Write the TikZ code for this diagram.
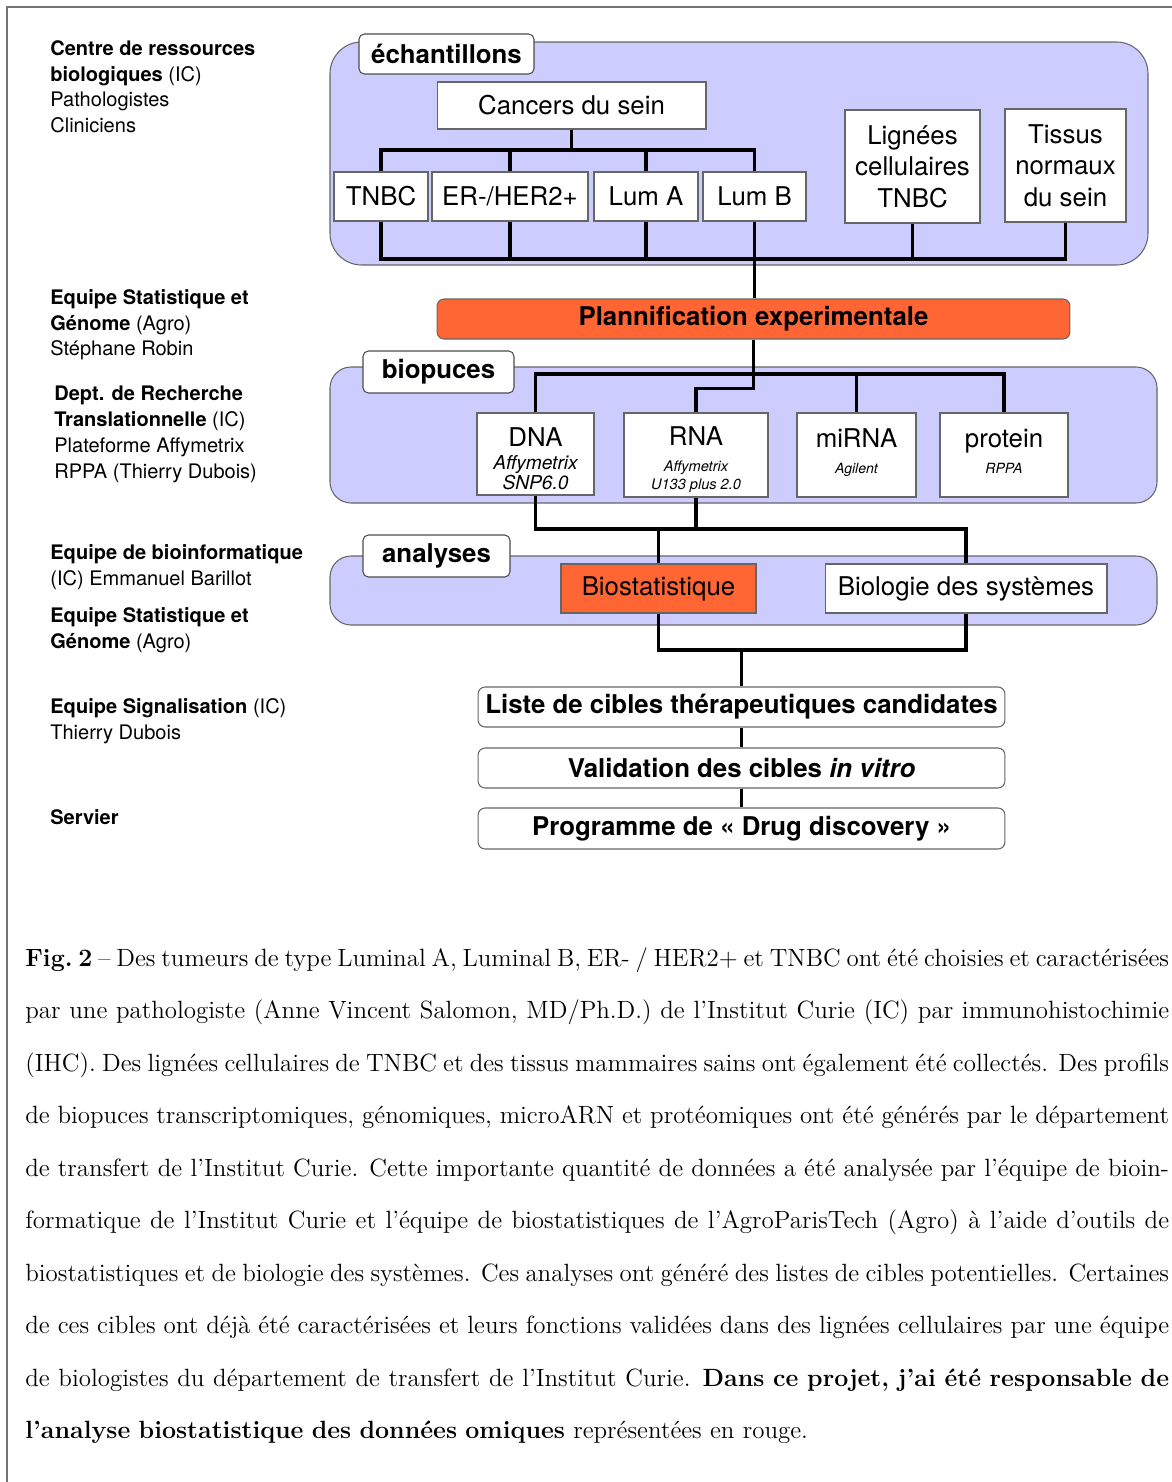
\documentclass[tikz,border=0pt]{standalone}
\usepackage{fontspec}
\setsansfont{TeX Gyre Heros}
\usetikzlibrary{calc}
\definecolor{lavender}{HTML}{CCCCFF}
\definecolor{planorange}{HTML}{FF6633}
\newcommand\subtxt[2]{{\fontsize{#1}{#1}\selectfont\itshape #2}}
\newcommand\capfont{\rmfamily\fontsize{14.2}{29.9}\selectfont
  \spaceskip=0.3333em plus 0.3em minus 0.2em\relax
  \hyphenpenalty=10000\relax\exhyphenpenalty=10000\relax}

\begin{document}
\begin{tikzpicture}[x=0.02cm, y=-0.02cm,
  group/.style={draw=black!60, fill=lavender, line width=0.6pt},
  tag/.style={draw=black!70, fill=white, rounded corners=3pt, line width=0.6pt, inner sep=0pt,
    font=\sffamily\bfseries\fontsize{14.7}{17}\selectfont},
  box/.style={draw=black!60, fill=white, line width=0.6pt, inner sep=0pt, align=center,
    font=\sffamily\fontsize{14.7}{18}\selectfont},
  stepbox/.style={box, rounded corners=4pt, font=\sffamily\bfseries\fontsize{14.7}{17}\selectfont},
  link/.style={line width=1.9pt},
  thinlink/.style={line width=1.3pt},
  who/.style={anchor=north west, align=left, inner sep=0pt, font=\sffamily\fontsize{11.4}{14.7}\selectfont},
  caption/.style={anchor=north west, inner sep=0pt, text width=651pt, align=justify, font=\capfont}
]
  \useasboundingbox (0,0) rectangle (1172,1482);
  \draw[black!55, line width=1.2pt] (7,1482) -- (7,7) -- (1172,7);

  % who does what
  \node[who] (crb) at (50,40) {\textbf{Centre de ressources}\\\textbf{biologiques} (IC)\\Pathologistes\\Cliniciens};
  \node[who] (ssg1) at (50,289) {\textbf{Equipe Statistique et}\\\textbf{Génome} (Agro)\\Stéphane Robin};
  \node[who] (drt) at (54,386) {\textbf{Dept. de Recherche}\\\textbf{Translationnelle} (IC)\\Plateforme Affymetrix\\RPPA (Thierry Dubois)};
  \node[who] (bioinfo) at (50,544) {\textbf{Equipe de bioinformatique}\\(IC) Emmanuel Barillot};
  \node[who] (ssg2) at (50,607) {\textbf{Equipe Statistique et}\\\textbf{Génome} (Agro)};
  \node[who] (signal) at (50,698) {\textbf{Equipe Signalisation} (IC)\\Thierry Dubois};
  \node[who] (servier) at (50,809) {\textbf{Servier}};

  % groups
  \draw[group, rounded corners=18pt] (330,42) rectangle (1148,265);
  \draw[group, rounded corners=12pt] (330,367) rectangle (1157,503);
  \draw[group, rounded corners=12pt] (330,556) rectangle (1157,625);

  % samples
  \node[tag, minimum width=3.5cm, minimum height=0.8cm] (echtag) at (446.5,54) {échantillons};
  \node[box, minimum width=5.38cm, minimum height=0.94cm] (cancer) at (571.5,105.5) {Cancers du sein};
  \node[box, minimum width=1.88cm, minimum height=0.98cm] (tnbc) at (381,196.5) {TNBC};
  \node[box, minimum width=3.12cm, minimum height=0.98cm] (er) at (510,196.5) {ER-/HER2+};
  \node[box, minimum width=2.08cm, minimum height=0.98cm] (luma) at (646,196.5) {Lum A};
  \node[box, minimum width=2.06cm, minimum height=0.98cm] (lumb) at (754.5,196.5) {Lum B};
  \node[box, minimum width=2.7cm, minimum height=2.26cm] (lign) at (912.5,166.5) {Lignées\\cellulaires\\TNBC};
  \node[box, minimum width=2.42cm, minimum height=2.26cm] (tissus) at (1065.5,165.5) {Tissus\\normaux\\du sein};

  \node[stepbox, fill=planorange, minimum width=12.66cm, minimum height=0.8cm] (plan) at (753.5,319) {Plannification experimentale};

  % microarrays
  \node[tag, minimum width=3.02cm, minimum height=0.84cm] (biotag) at (438.5,372) {biopuces};
  \node[box, minimum width=2.34cm, minimum height=1.64cm] (dna) at (535.5,454)
    {\rule{0pt}{16pt}DNA\\[-5pt]\subtxt{10.9}{Affymetrix}\\[-6.7pt]\subtxt{10.9}{SNP6.0}};
  \node[box, minimum width=2.88cm, minimum height=1.68cm] (rna) at (696,455)
    {\rule{0pt}{16pt}RNA\\[-3.3pt]\subtxt{8.3}{Affymetrix}\\[-7.8pt]\subtxt{8.3}{U133 plus 2.0}};
  \node[box, minimum width=2.38cm, minimum height=1.68cm] (mirna) at (856.5,455)
    {\rule{0pt}{16pt}miRNA\\[-3.3pt]\subtxt{8}{Agilent}\\[-7.8pt]\mbox{}};
  \node[box, minimum width=2.56cm, minimum height=1.68cm] (prot) at (1004,455)
    {\rule{0pt}{16pt}protein\\[-3.3pt]\subtxt{8}{RPPA}\\[-7.8pt]\mbox{}};

  % analyses
  \node[tag, minimum width=2.94cm, minimum height=0.84cm] (anatag) at (436.5,556) {analyses};
  \node[box, fill=planorange, minimum width=3.9cm, minimum height=0.98cm] (biostat) at (658.5,588.5) {Biostatistique};
  \node[box, minimum width=5.64cm, minimum height=0.98cm] (biosys) at (966,588.5) {Biologie des systèmes};

  % outcome
  \node[stepbox, minimum width=10.54cm, minimum height=0.8cm] (liste) at (741.5,707) {Liste de cibles thérapeutiques candidates};
  \node[stepbox, minimum width=10.54cm, minimum height=0.8cm] (valid) at (741.5,768) {Validation des cibles \textit{in vitro}};
  \node[stepbox, minimum width=10.54cm, minimum height=0.82cm] (prog) at (741.5,828.5) {Programme de « Drug discovery »};

  % connectors
  \coordinate (echtop) at (0,150);
  \coordinate (echbar) at (0,259);
  \draw[link] (cancer.south) -- (cancer.south |- echtop);
  \draw[link] (tnbc.north) |- (echtop -| lumb.north) -- (lumb.north);
  \draw[link] (tnbc.south) |- (echbar -| tissus.south) -- (tissus.south);
  \foreach \n in {er, luma} {
    \draw[link] (\n.north) -- (\n.north |- echtop);
    \draw[link] (\n.south) -- (\n.south |- echbar);
  }
  \draw[link] (lign.south) -- (lign.south |- echbar);
  \draw[link] (lumb.south) -- (lumb.south |- echbar);
  \draw[thinlink] (lumb.south |- echbar) -- (lumb.south |- plan.north);

  \coordinate (biobar) at (0,374);
  \draw[link] (plan.south) -- ++(0,49) -| (rna.north);
  \draw[link] (dna.north) |- (biobar -| prot.north) -- (prot.north);
  \draw[link] (mirna.north) -- (mirna.north |- biobar);

  \coordinate (anabar) at (0,529);
  \coordinate (outbar) at (0,650);
  \draw[link] (dna.south) |- (anabar -| biosys.north) -- (biosys.north);
  \draw[link] (rna.south) -- (rna.south |- anabar);
  \draw[link] (biostat.north) -- (biostat.north |- anabar);
  \draw[link] (biostat.south) |- (outbar -| biosys.south) -- (biosys.south);
  \draw[link] (liste.north) -- (liste.north |- outbar);
  \draw[link] (liste) -- (valid);
  \draw[link] (valid) -- (prog);

  % caption
  \node[caption] (cap) at (25,947) {\textbf{Fig.~2} -- Des tumeurs de type Luminal A, Luminal B, ER- / HER2+ et TNBC ont été choisies et caractérisées\linebreak
    par une pathologiste (Anne Vincent Salomon, MD/Ph.D.) de l'Institut Curie (IC) par immunohistochimie\linebreak
    (IHC). Des lignées cellulaires de TNBC et des tissus mammaires sains ont également été collectés. Des profils\linebreak
    de biopuces transcriptomiques, génomiques, microARN et protéomiques ont été générés par le département\linebreak
    de transfert de l'Institut Curie. Cette importante quantité de données a été analysée par l'équipe de bioin-\linebreak
    formatique de l'Institut Curie et l'équipe de biostatistiques de l'AgroParisTech (Agro) à l'aide d'outils de\linebreak
    biostatistiques et de biologie des systèmes. Ces analyses ont généré des listes de cibles potentielles. Certaines\linebreak
    de ces cibles ont déjà été caractérisées et leurs fonctions validées dans des lignées cellulaires par une équipe\linebreak
    de biologistes du département de transfert de l'Institut Curie. \textbf{Dans ce projet, j'ai été responsable de\linebreak
    l'analyse biostatistique des données omiques} représentées en rouge.};
\end{tikzpicture}
\end{document}
